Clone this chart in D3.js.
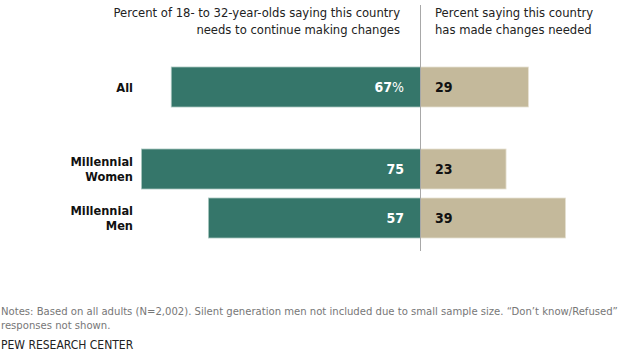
<!DOCTYPE html>
<html>
<head>
<meta charset="utf-8">
<script src="https://cdn.jsdelivr.net/npm/d3@7"></script>
<style>
  body { margin: 0; background: #fff; }
  svg { display: block; }
  text { font-family: "Liberation Sans Narrow", "DejaVu Sans Condensed", "Roboto", sans-serif; }
</style>
</head>
<body>
<div id="chart"></div>
<script>
// data
var categories = ["All", "Millennial Women", "Millennial Men"];
var labelLines = [["All"], ["Millennial", "Women"], ["Millennial", "Men"]];
var groups = [0, 1, 1];
var needChanges = [67, 75, 57];
var madeChanges = [29, 23, 39];
var headerLeft = ["Percent of 18- to 32-year-olds saying this country", "needs to continue making changes"];
var headerRight = ["Percent saying this country", "has made changes needed"];
var notes = ["Notes: Based on all adults (N=2,002). Silent generation men not included due to small sample size. \u201cDon\u2019t know/Refused\u201d", "responses not shown."];
var source = "PEW RESEARCH CENTER";

// init size
var width = 641;
var height = 354;
var center = 420.5;
var groupGap = 33;

var svg = d3.select("#chart")
    .append("svg")
    .attr("width", width)
    .attr("height", height);

// init scales
var x = d3.scaleLinear()
    .domain([0, 100])
    .range([0, 372]);

var y = d3.scaleBand()
    .domain(categories)
    .range([67, 205])
    .paddingInner(9/49);

var rows = categories.map(function (c, i) {
    return {
        name: c,
        lines: labelLines[i],
        need: needChanges[i],
        made: madeChanges[i],
        y: y(c) + groups[i]*groupGap
    };
});

// headers
var hl = svg.append("text")
    .attr("text-anchor", "end")
    .attr("font-size", 12.9)
    .attr("fill", "#222");
hl.selectAll("tspan").data(headerLeft).enter().append("tspan")
    .attr("x", 400)
    .attr("y", (d, i) => 17 + i*16.5)
    .text(d => d);

var hr = svg.append("text")
    .attr("text-anchor", "start")
    .attr("font-size", 12.9)
    .attr("fill", "#222");
hr.selectAll("tspan").data(headerRight).enter().append("tspan")
    .attr("x", 435)
    .attr("y", (d, i) => 17 + i*16.5)
    .text(d => d);

// bars
var row = svg.append("g")
    .attr("class", "rows")
    .selectAll("g.row")
    .data(rows)
    .enter().append("g")
    .attr("class", "row");

row.append("rect")
    .attr("x", d => center - x(d.need))
    .attr("y", d => d.y)
    .attr("width", d => x(d.need))
    .attr("height", y.bandwidth())
    .attr("fill", "#35766a")
    .attr("stroke", "#a9c6bf")
    .attr("stroke-width", 0.8);

row.append("rect")
    .attr("x", center)
    .attr("y", d => d.y)
    .attr("width", d => x(d.made))
    .attr("height", y.bandwidth())
    .attr("fill", "#c4b99b")
    .attr("stroke", "#e7e1d2")
    .attr("stroke-width", 0.8);

// center line
svg.append("line")
    .attr("x1", center)
    .attr("x2", center)
    .attr("y1", 5)
    .attr("y2", 251)
    .attr("stroke", "#a8a8a8")
    .attr("stroke-width", 1);

// values
row.append("text")
    .attr("x", 404)
    .attr("y", d => d.y + y.bandwidth()/2)
    .attr("dy", "0.36em")
    .attr("text-anchor", "end")
    .attr("font-size", 14)
    .attr("font-weight", "bold")
    .attr("fill", "#fff")
    .each(function (d, i) {
        var t = d3.select(this);
        t.append("tspan").text(d.need);
        if (i == 0) t.append("tspan").attr("font-weight", "normal").text("%");
    });

row.append("text")
    .attr("x", 435)
    .attr("y", d => d.y + y.bandwidth()/2)
    .attr("dy", "0.36em")
    .attr("font-size", 14)
    .attr("font-weight", "bold")
    .attr("fill", "#111")
    .text(d => d.made);

// category labels
row.append("text")
    .attr("text-anchor", "end")
    .attr("font-size", 12.7)
    .attr("font-weight", "bold")
    .attr("fill", "#111")
    .each(function (d) {
        var n = d.lines.length;
        d3.select(this).selectAll("tspan").data(d.lines).enter().append("tspan")
            .attr("x", 133)
            .attr("y", (l, i) => d.y + y.bandwidth()/2 + (i - (n - 1)/2)*15)
            .attr("dy", "0.36em")
            .text(l => l);
    });

// notes
svg.append("g")
    .selectAll("text")
    .data(notes)
    .enter().append("text")
    .attr("x", 1)
    .attr("y", (d, i) => 315 + i*13.5)
    .attr("font-size", 11.2)
    .attr("fill", "#777")
    .text(d => d);

svg.append("text")
    .attr("x", 1)
    .attr("y", 349)
    .attr("font-size", 12)
    .attr("fill", "#222")
    .text(source);
</script>
</body>
</html>
